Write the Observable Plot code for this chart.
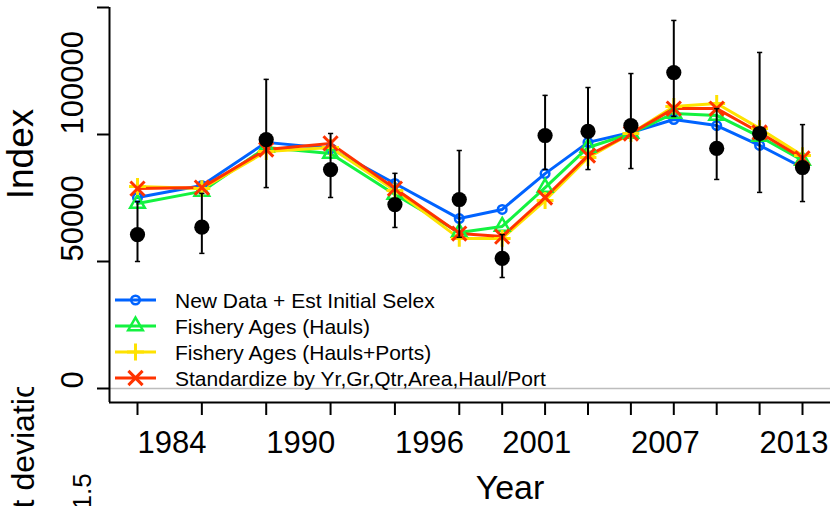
<!DOCTYPE html>
<html>
<head>
<meta charset="utf-8">
<script src="https://cdn.jsdelivr.net/npm/d3@7"></script>
<script src="https://cdn.jsdelivr.net/npm/@observablehq/plot@0.6"></script>
<style>
  html, body { margin: 0; padding: 0; background: #fff; }
  #chart { width: 830px; height: 506px; overflow: hidden; }
</style>
</head>
<body>
<div id="chart"></div>
<script>
// Survey / fishery index years
const years = [1984, 1987, 1990, 1993, 1996, 1999, 2001, 2003, 2005, 2007, 2009, 2011, 2013, 2015];

// Observed index with lower / upper interval bounds
const obsIndex = [60600, 63500, 98000, 86200, 72400, 74400, 51200, 99600, 101200, 103500, 124400, 94500, 100400, 87000];
const obsLower = [50000, 53200, 79100, 75200, 63400, 59500, 43700, 86200, 86200, 86600, 107100, 82300, 77200, 73600];
const obsUpper = [73600, 76800, 121700, 100400, 84700, 93700, 60600, 115400, 118500, 124000, 144900, 110200, 132300, 103900];

// Expected index for each model run
const fitNewData   = [75200, 79900, 96900, 94500, 80700, 66900, 70500, 84600, 96900, 100800, 105900, 103500, 95700, 87000];
const fitHauls     = [72800, 77600, 94900, 92500, 76400, 61400, 63800, 79100, 94900, 100400, 108300, 107500, 99200, 89800];
const fitHaulsPort = [79500, 78700, 93300, 94900, 78000, 59100, 59100, 74000, 90900, 100400, 111000, 112200, 102400, 91700];
const fitStandard  = [78700, 79100, 94100, 96500, 78700, 61000, 59800, 75200, 91700, 100400, 110200, 110200, 100800, 90600];

const seriesNames = [
  "New Data + Est Initial Selex",
  "Fishery Ages (Hauls)",
  "Fishery Ages (Hauls+Ports)",
  "Standardize by Yr,Gr,Qtr,Area,Haul/Port"
];
const seriesValues = [fitNewData, fitHauls, fitHaulsPort, fitStandard];
const seriesColors = ["#0063FF", "#13F240", "#FEE201", "#FF3300"];
const seriesSymbols = ["circle", "triangle2", "plus", "times"];
const seriesSymbolR = [4.3, 7, 5.5, 6.5];

// Axis tick values and labels
const xLabelYears = [1984, 1990, 1996, 2001, 2007, 2013];
const yTicks = [0, 50000, 100000, 150000];
const yLabels = [0, 50000, 100000];

// Lower panel (recruitment deviations) title and first tick label
const recdevTitle = "Log Recruitment deviation";
const recdevTick = "1.5";

const font = "'Liberation Sans', Arial, Helvetica, sans-serif";

// Tables built from the arrays above
const obsRows = years.map((year, i) => ({year, value: obsIndex[i], lo: obsLower[i], hi: obsUpper[i]}));
const fitRows = seriesNames.map((name, s) =>
  years.map((year, i) => ({year, value: seriesValues[s][i], series: name}))
);

// Scale domains (a little padding beyond the first and last year)
const xPad = 1.305;
const xDomain = [years[0] - xPad, years[years.length - 1] + xPad];
const yDomain = [-5512, 150000];

// Flat horizontal cap for the interval whiskers
const capSymbol = {
  draw(context, size) {
    const r = Math.sqrt(size / Math.PI);
    context.moveTo(-r, 0);
    context.lineTo(r, 0);
  }
};

const marks = [
  // zero reference line
  Plot.ruleY([0], {stroke: "#bdbdbd", strokeWidth: 1.5}),
  // L-shaped axis frame
  Plot.ruleX([xDomain[0]], {stroke: "black", strokeWidth: 2}),
  Plot.ruleY([yDomain[0]], {stroke: "black", strokeWidth: 2}),
  // tick marks
  Plot.axisX(years, {anchor: "bottom", tickSize: 13, strokeWidth: 2, fill: "none", label: null}),
  Plot.axisY(yTicks, {anchor: "left", tickSize: 12, strokeWidth: 2, fill: "none", label: null}),
  // tick labels
  Plot.text(xLabelYears, {
    x: d => d, text: d => String(d), frameAnchor: "bottom", dy: 50,
    textAnchor: "start", lineAnchor: "bottom", fontSize: 31, fill: "black"
  }),
  Plot.text(yLabels, {
    y: d => d, text: d => String(d), frameAnchor: "left", dx: -27, rotate: -90,
    textAnchor: "start", lineAnchor: "bottom", fontSize: 31, fill: "black"
  }),
  // axis titles
  Plot.text(["Year"], {
    text: d => d, frameAnchor: "bottom", dx: 40, dy: 96,
    textAnchor: "middle", lineAnchor: "bottom", fontSize: 34, fill: "black"
  }),
  Plot.text(["Index"], {
    text: d => d, frameAnchor: "left", dx: -77, dy: -51, rotate: -90,
    textAnchor: "middle", lineAnchor: "bottom", fontSize: 37, fill: "black"
  }),
  // title and first tick of the panel below
  Plot.text([recdevTitle], {
    text: d => d, frameAnchor: "left", dx: -76, dy: 157.5, rotate: -90,
    textAnchor: "end", lineAnchor: "bottom", fontSize: 32, fill: "black"
  }),
  Plot.text([recdevTick], {
    text: d => d, frameAnchor: "left", dx: -19, dy: 304.5, rotate: -90,
    textAnchor: "start", lineAnchor: "bottom", fontSize: 26, fill: "black"
  })
];

// model fits: lines then symbols
seriesNames.forEach((name, s) => {
  marks.push(Plot.line(fitRows[s], {x: "year", y: "value", stroke: seriesColors[s], strokeWidth: 3}));
});
seriesNames.forEach((name, s) => {
  marks.push(Plot.dot(fitRows[s], {
    x: "year", y: "value", symbol: seriesSymbols[s], r: seriesSymbolR[s],
    stroke: seriesColors[s], fill: "none", strokeWidth: s >= 2 ? 3 : 2.5
  }));
});

// observations with intervals
marks.push(
  Plot.ruleX(obsRows, {x: "year", y1: "lo", y2: "hi", stroke: "black", strokeWidth: 2}),
  Plot.dot(obsRows, {x: "year", y: "lo", symbol: capSymbol, r: 2.6, stroke: "black", fill: "none", strokeWidth: 1.5}),
  Plot.dot(obsRows, {x: "year", y: "hi", symbol: capSymbol, r: 2.6, stroke: "black", fill: "none", strokeWidth: 1.5}),
  Plot.dot(obsRows, {x: "year", y: "value", r: 7.6, fill: "black", stroke: "none"})
);

const svg = Plot.plot({
  width: 830,
  height: 506,
  marginLeft: 109,
  marginRight: 0,
  marginTop: 7,
  marginBottom: 104,
  x: {domain: xDomain, axis: null},
  y: {domain: yDomain, axis: null},
  style: {fontFamily: font, background: "white", color: "black"},
  marks
});

const ns = "http://www.w3.org/2000/svg";

// clip the lower panel's title where that panel begins
const defs = d3.select(svg).insert("defs", ":first-child");
defs.append("clipPath").attr("id", "recdev-clip")
  .attr("clipPathUnits", "userSpaceOnUse")
  .append("rect").attr("x", 0).attr("y", 387).attr("width", 60).attr("height", 200);
const recdevText = Array.from(svg.querySelectorAll("text")).find(t => t.textContent === recdevTitle);
if (recdevText) {
  const group = recdevText.closest("g");
  const wrap = document.createElementNS(ns, "g");
  group.parentNode.insertBefore(wrap, group);
  wrap.appendChild(group);
  wrap.setAttribute("clip-path", "url(#recdev-clip)");
}

// legend in the lower-left corner of the panel
const symbolTypes = {circle: d3.symbolCircle, triangle2: d3.symbolTriangle2, plus: d3.symbolPlus, times: d3.symbolTimes};
const legend = d3.select(svg).append("g")
  .attr("font-family", font).attr("font-size", 21).attr("fill", "black")
  .attr("text-anchor", "start");
seriesNames.forEach((name, s) => {
  const y = 300 + s * 26;
  legend.append("line")
    .attr("x1", 115).attr("x2", 156).attr("y1", y).attr("y2", y)
    .attr("stroke", seriesColors[s]).attr("stroke-width", 3);
  const r = seriesSymbolR[s];
  legend.append("path")
    .attr("transform", `translate(135.5,${y})`)
    .attr("d", d3.symbol(symbolTypes[seriesSymbols[s]], r * r * Math.PI)())
    .attr("fill", "none").attr("stroke", seriesColors[s])
    .attr("stroke-width", s >= 2 ? 3 : 2.5);
  legend.append("text")
    .attr("x", 175).attr("y", y).attr("dy", "0.36em")
    .attr("text-anchor", "start")
    .text(name);
});

document.getElementById("chart").appendChild(svg);
</script>
</body>
</html>
